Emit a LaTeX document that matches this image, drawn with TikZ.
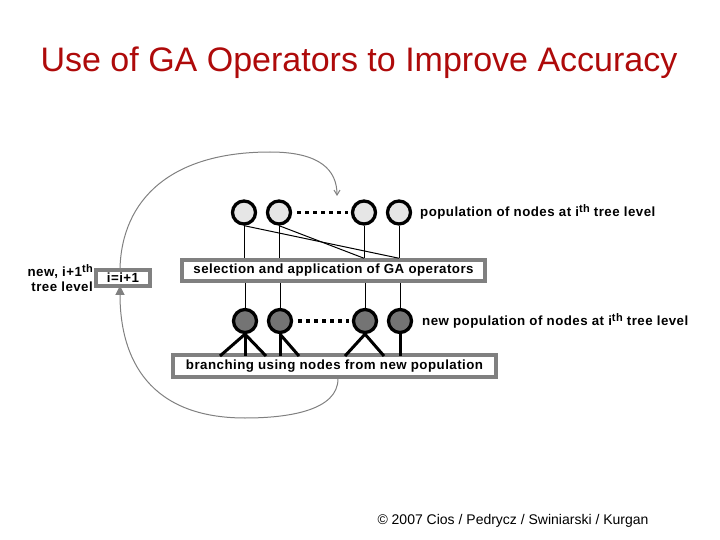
\documentclass[tikz,border=0pt]{standalone}
\usepackage{fontspec}
\setmainfont{Liberation Sans}
\usetikzlibrary{arrows.meta}
\definecolor{titlered}{HTML}{AE0A0A}
\definecolor{boxgray}{HTML}{808080}
\definecolor{lightfill}{HTML}{E6E6E6}
\definecolor{darkfill}{HTML}{747474}
\newcommand{\lblfont}{\fontsize{13.3}{15}\selectfont\bfseries\addfontfeatures{LetterSpace=3.5}}
\newcommand{\thsup}{\raisebox{4.5pt}{\fontsize{11}{12}\selectfont th}}
\begin{document}
\begin{tikzpicture}[x=1pt,y=-1pt,
  lbl/.style={font=\lblfont, inner sep=0pt},
  gabox/.style={draw=boxgray, line width=3.5pt, fill=white, font=\lblfont, inner xsep=3pt, inner ysep=2pt},
  topnode/.style={circle, draw=black, line width=3.3pt, fill=lightfill, minimum size=23pt, inner sep=0pt},
  botnode/.style={circle, draw=black, line width=3.3pt, fill=darkfill, minimum size=23pt, inner sep=0pt},
  thin/.style={draw=black, line width=1pt},
  branch/.style={draw=black, line width=3pt},
  dots/.style={draw=black, line width=3.5pt, dash pattern=on 3.5pt off 4.5pt},
  loop/.style={draw=boxgray, line width=1pt}]
\useasboundingbox (0,0) rectangle (720,540);
% title
\node[text=titlered, font=\fontsize{34}{38}\selectfont] (title) at (359,63) {Use of GA Operators to Improve Accuracy};
% boxes
\node[gabox, minimum width=303pt, minimum height=21pt] (sel) at (333.5,270.5) {selection and application of GA operators};
\node[gabox, minimum width=323pt, minimum height=22pt] (br) at (334.5,366) {branching using nodes from new population};
\node[gabox, minimum width=54pt, minimum height=16pt, inner xsep=2pt, inner ysep=1pt] (inc) at (123,278) {i=i+1};
% top nodes
\node[topnode] (t1) at (244,212.5) {};
\node[topnode] (t2) at (279,212.5) {};
\node[topnode] (t3) at (364,212.5) {};
\node[topnode] (t4) at (399,212.5) {};
% bottom nodes
\node[botnode] (b1) at (245,321) {};
\node[botnode] (b2) at (280,321) {};
\node[botnode] (b3) at (365,321) {};
\node[botnode] (b4) at (400,321) {};
% dots
\draw[dots] ([xshift=5pt]t2.east) -- ([xshift=-3pt]t3.west);
\draw[dots] ([xshift=5pt]b2.east) -- ([xshift=-3pt]b3.west);
% labels
\node[lbl, anchor=west] (ltop) at (420,212) {population of nodes at i\thsup{} tree level};
\node[lbl, anchor=west] (lbot) at (422,321) {new population of nodes at i\thsup{} tree level};
\node[lbl, anchor=east, align=right] (lnew) at (93,278) {new, i+1\thsup\\tree level};
% vertical lines
\foreach \n in {1,2,3,4}{
  \draw[thin] (t\n.south) -- (t\n.south |- sel.north);
  \draw[thin] (b\n.north |- sel.south) -- (b\n.north);
}
\coordinate (s3) at (t3.south |- sel.north);
\coordinate (s4) at (t4.south |- sel.north);
\draw[thin] (t1.south) -- (s4);
\draw[thin] (t2.south) -- (s3);
% branches
\coordinate (c1) at (220,356);
\coordinate (c2) at (245,356);
\coordinate (c3) at (266,356);
\coordinate (c4) at (280,356);
\coordinate (c5) at (299,356);
\coordinate (c6) at (345,356);
\coordinate (c7) at (384,356);
\coordinate (c8) at (400,356);
\draw[branch] (b1.south) -- (c1);
\draw[branch] (b1.south) -- (c2);
\draw[branch] (b1.south) -- (c3);
\draw[branch] (b2.south) -- (c4);
\draw[branch] (b2.south) -- (c5);
\draw[branch] (b3.south) -- (c6);
\draw[branch] (b3.south) -- (c7);
\draw[branch] (b4.south) -- (c8);
% loop arrows
\coordinate (topend) at (337,196);
\draw[loop, -{Straight Barb[length=5pt,width=6pt]}] ([xshift=-3pt]inc.north) .. controls (122,200) and (170,152) .. (270,152) .. controls (320,152) and (337,170) .. (topend);
\coordinate (botstart) at (338,377);
\draw[loop, -{Triangle[length=9pt,width=9pt,fill=boxgray]}] (br.south -| botstart) .. controls (338,410) and (290,418) .. (245,418) .. controls (150,418) and (120,360) .. ([xshift=-3pt,yshift=2pt]inc.south);
% footer
\node[font=\fontsize{14}{16}\selectfont] (foot) at (513,521) {© 2007 Cios / Pedrycz / Swiniarski / Kurgan};
\end{tikzpicture}
\end{document}
